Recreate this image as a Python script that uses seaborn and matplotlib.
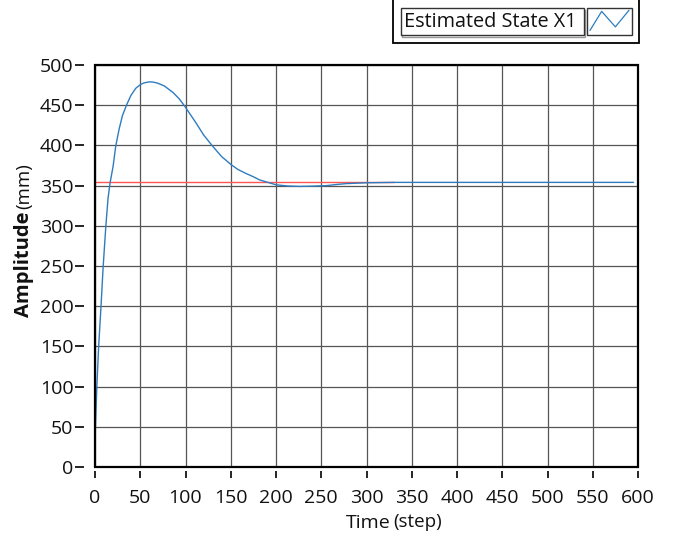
import matplotlib
matplotlib.use("Agg")
import matplotlib.pyplot as plt
from matplotlib.patches import Rectangle
import seaborn as sns
import pandas as pd

# ---- data ----
time_est = [0, 2, 4, 6.7, 9, 12, 14.4, 16.6, 20, 22.9, 26.6, 30.3, 34.8, 39.6, 45, 50.6, 55,
            60, 64, 69, 76.5, 86, 93, 99, 105, 111.6, 120, 130, 140, 150.5, 158, 167, 175,
            182, 191, 200, 213, 226, 240, 256, 268, 278, 300, 330, 400, 500, 595]
amp_est = [34, 99, 149, 201, 249, 300, 334, 353, 374, 399, 420, 437, 450, 462, 471, 476, 478,
           479, 478.8, 477.5, 474, 466, 458, 449, 439, 428, 413, 399, 386, 376, 370, 365, 361,
           357, 354, 351, 349.5, 349, 349.3, 350, 351.5, 352.5, 353.5, 354, 354, 354, 354]
time_ref = [0, 330]
amp_ref = [354, 354]

x_ticks = list(range(0, 601, 50))
y_ticks = list(range(0, 501, 50))
legend_label = "Estimated State X1"

BLUE = "#2e7cbf"
RED = "#ff5555"

sns.set_theme(style="white")
plt.rcParams["font.family"] = ["Open Sans", "DejaVu Sans"]

W, H = 683, 540
fig = plt.figure(figsize=(W / 100, H / 100), dpi=100)
ax = fig.add_axes([95 / W, 1 - 467 / H, (638 - 95) / W, (467 - 65) / H])

df_est = pd.DataFrame({"t": time_est, "a": amp_est})
df_ref = pd.DataFrame({"t": time_ref, "a": amp_ref})
sns.lineplot(data=df_ref, x="t", y="a", ax=ax, color=RED, lw=1.0, zorder=3)
sns.lineplot(data=df_est, x="t", y="a", ax=ax, color=BLUE, lw=1.0, zorder=4)

ax.set_xlim(0, 600)
ax.set_ylim(0, 500)
ax.set_xticks(x_ticks)
ax.set_yticks(y_ticks)
ax.set_xticklabels([str(v) for v in x_ticks])
ax.set_yticklabels([str(v) for v in y_ticks])
ax.set_xlabel("")
ax.set_ylabel("")

ax.grid(True, color="#555555", lw=0.9)
ax.set_axisbelow(True)

for s in ax.spines.values():
    s.set_visible(False)
ax.spines["left"].set_position(("outward", 11 * 0.72))
ax.spines["bottom"].set_position(("outward", 4 * 0.72))
ax.tick_params(axis="y", left=True, direction="out", length=9 * 0.72, width=1.2,
               color="black", pad=1.2, labelsize=14, labelcolor="#111111")
ax.tick_params(axis="x", bottom=True, direction="out", length=7 * 0.72, width=1.2,
               color="black", pad=8.0, labelsize=14, labelcolor="#111111")

ax.add_patch(Rectangle((0, 0), 1, 1, transform=ax.transAxes, fill=False,
                       ec="black", lw=1.6, clip_on=False, zorder=6))

# axis labels
fig.text(24 / W, 1 - 264 / H, "Amplitude", rotation=90, ha="center", va="center",
         fontsize=14.5, fontweight="bold", color="#111111")
fig.text(24 / W, 1 - 186 / H, "(mm)", rotation=90, ha="center", va="center",
         fontsize=13.5, color="#111111")
fig.text(368 / W, 1 - 523 / H, "Time", ha="center", va="center", fontsize=14, color="#111111")
fig.text(418 / W, 1 - 522 / H, "(step)", ha="center", va="center", fontsize=13.5, color="#111111")

# LabVIEW-style legend
def px_rect(x0, y0, x1, y1, **kw):
    return Rectangle((x0 / W, 1 - y1 / H), (x1 - x0) / W, (y1 - y0) / H,
                     transform=fig.transFigure, **kw)

fig.patches.append(px_rect(393, -3, 639, 43, fill=True, fc="white", ec="black", lw=1.3))
fig.patches.append(px_rect(402, 10, 585, 37, fill=False, ec="#999999", lw=1.0))
fig.patches.append(px_rect(401, 8, 584, 35, fill=True, fc="white", ec="#333333", lw=1.0))
fig.patches.append(px_rect(587, 8, 632, 35, fill=True, fc="white", ec="#333333", lw=1.0))
fig.text(404 / W, 1 - 22 / H, legend_label, ha="left", va="center", fontsize=14.3,
         color="#111111")
sw = fig.add_axes([588 / W, 1 - 34 / H, 43 / W, 25 / H], zorder=10)
sw.set_axis_off()
sw.patch.set_visible(False)
sw.plot([0, 0.3, 0.65, 1.0], [0.15, 0.95, 0.3, 1.0], color=BLUE, lw=0.9)
sw.set_xlim(-0.05, 1.05)
sw.set_ylim(0, 1.05)

fig.savefig("out.png", dpi=100)
